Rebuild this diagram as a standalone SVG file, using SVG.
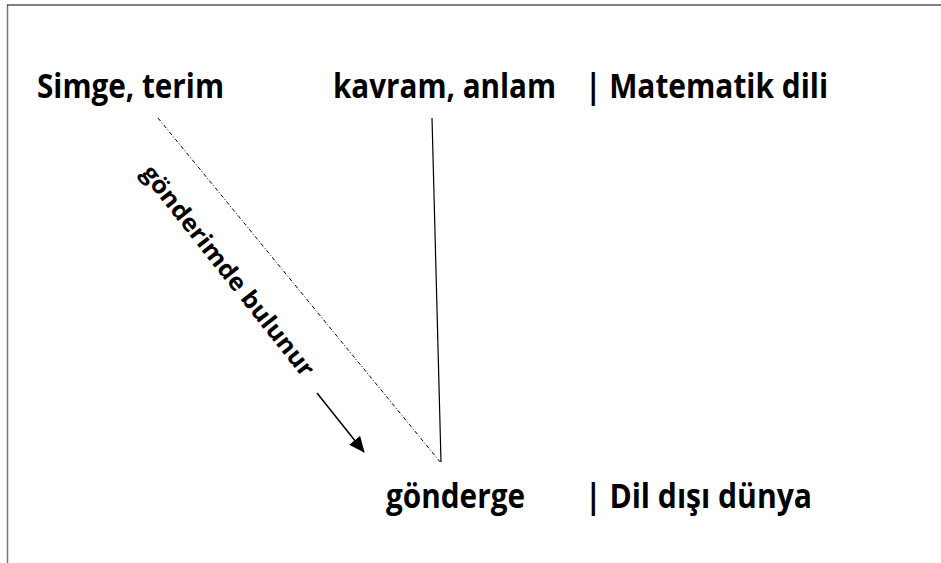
<svg xmlns="http://www.w3.org/2000/svg" width="941" height="563" viewBox="0 0 941 563">
<style>
.t{font-family:"Open Sans","Noto Sans","Liberation Sans",sans-serif;font-weight:bold;fill:#000}
.big{font-size:34px}
.lbl{font-size:24px}
</style>
<defs>
<marker id="ah" markerWidth="16" markerHeight="14" refX="15" refY="7" orient="auto" markerUnits="userSpaceOnUse">
<path d="M0,0 L16,7 L0,14 Z" fill="#000"/>
</marker>
</defs>
<rect width="941" height="563" fill="#fff"/>
<g id="frame" fill="none">
<line x1="7.5" y1="5" x2="7.5" y2="563" stroke="#777" stroke-width="1.5"/>
<line x1="7" y1="5" x2="941" y2="5" stroke="#000" stroke-width="1"/>
</g>
<g id="connectors" fill="none" stroke="#000">
<line x1="158" y1="118" x2="441" y2="463" stroke-width="1" stroke-dasharray="4,2,1,2"/>
<line x1="432" y1="118" x2="441" y2="462" stroke-width="1.2"/>
<line x1="317" y1="393" x2="364" y2="452" stroke-width="1.5" marker-end="url(#ah)"/>
</g>
<g id="simge"><text class="t big" x="37" y="98" textLength="187" lengthAdjust="spacingAndGlyphs">Simge, terim</text></g>
<g id="kavram"><text class="t big" x="333" y="98" textLength="223" lengthAdjust="spacingAndGlyphs">kavram, anlam</text></g>
<g id="matematik"><text class="t big" x="585" y="98" textLength="243" lengthAdjust="spacingAndGlyphs">| Matematik dili</text></g>
<g id="gonderge"><text class="t big" x="386" y="508" textLength="139" lengthAdjust="spacingAndGlyphs">gönderge</text></g>
<g id="dunya"><text class="t big" x="585" y="508" textLength="227" lengthAdjust="spacingAndGlyphs">| Dil dışı dünya</text></g>
<g id="label"><text class="t lbl" transform="translate(229,270) rotate(51.6)" text-anchor="middle" dominant-baseline="central" textLength="262" lengthAdjust="spacingAndGlyphs">gönderimde bulunur</text></g>
</svg>
